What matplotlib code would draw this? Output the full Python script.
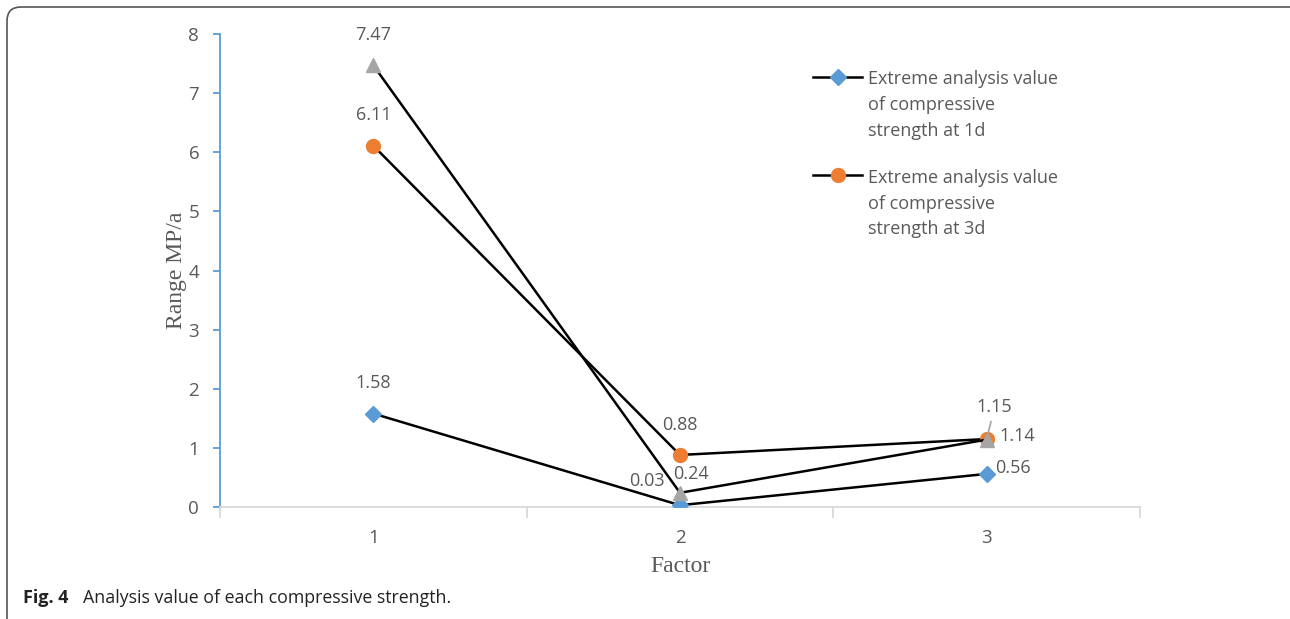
import matplotlib
matplotlib.use('Agg')
import matplotlib.pyplot as plt
from matplotlib.patches import FancyBboxPatch

# Data
factors = [1, 2, 3]
strength_1d = [1.58, 0.03, 0.56]
strength_3d = [6.11, 0.88, 1.15]
strength_7d = [7.47, 0.24, 1.14]
legend_1d = 'Extreme analysis value\nof compressive\nstrength at 1d'
legend_3d = 'Extreme analysis value\nof compressive\nstrength at 3d'
y_ticks = [0, 1, 2, 3, 4, 5, 6, 7, 8]

label_font = 'Open Sans'
text_grey = '#595959'

fig = plt.figure(figsize=(12.9, 6.19), dpi=100)
ax = fig.add_axes([220 / 1290, 1 - 507 / 619, 920 / 1290, 473 / 619])

# Series: black lines with coloured markers (Excel style)
ax.plot(factors, strength_1d, color='black', lw=1.8, marker='D', ms=8.5,
        mfc='#5B9BD5', mec='#5B9BD5', label=legend_1d, zorder=3)
ax.plot(factors, strength_3d, color='black', lw=1.8, marker='o', ms=10,
        mfc='#ED7D31', mec='#ED7D31', label=legend_3d, zorder=3)
ax.plot(factors, strength_7d, color='black', lw=1.8, marker='^', ms=10,
        mfc='#A5A5A5', mec='#A5A5A5', label='_nolegend_', zorder=3)

# data labels (offsets in pixels, placed like the original)
def put_label(x, y, dx, dy, leader=False):
    kw = {}
    if leader:
        kw['arrowprops'] = dict(arrowstyle='-', color='#A5A5A5', lw=1.2,
                                shrinkA=2, shrinkB=4)
    ax.annotate(f'{y:.2f}', (x, y), xytext=(dx, dy), textcoords='offset pixels',
                ha='center', va='center', fontsize=13, family=label_font,
                color=text_grey, **kw)

offs_1d = [(0, 31), (-33, 24), (26, 6)]
offs_3d = [(0, 31), (0, 30), (8, 32)]
offs_7d = [(0, 30), (11, 19), (31, 4)]
for i in range(3):
    put_label(factors[i], strength_1d[i], *offs_1d[i])
    put_label(factors[i], strength_3d[i], *offs_3d[i], leader=(i == 2))
    put_label(factors[i], strength_7d[i], *offs_7d[i])

ax.set_xlim(0.5, 3.5)
ax.set_ylim(0, 8)
ax.set_yticks(y_ticks)
ax.set_xticks(factors)
ax.set_xticks([0.5, 1.5, 2.5, 3.5], minor=True)
ax.set_xticklabels([str(f) for f in factors])

for s in ['top', 'right']:
    ax.spines[s].set_visible(False)
ax.spines['left'].set_color('#5B9BD5')
ax.spines['left'].set_linewidth(1.3)
ax.spines['bottom'].set_color('#D9D9D9')
ax.spines['bottom'].set_linewidth(1.3)

ax.tick_params(axis='y', direction='out', length=5, width=1.3, color='#5B9BD5',
               labelsize=13.5, labelcolor=text_grey, pad=10)
ax.tick_params(axis='x', which='major', length=0, labelsize=13.5,
               labelcolor=text_grey, pad=16)
ax.tick_params(axis='x', which='minor', direction='out', length=8, width=1.3,
               color='#D9D9D9')
for lab in ax.get_xticklabels() + ax.get_yticklabels():
    lab.set_family(label_font)

ax.set_xlabel('Factor', family='Liberation Serif', fontsize=17,
              color=text_grey, labelpad=6)
ax.set_ylabel('Range MP/a', family='Liberation Serif', fontsize=17,
              color=text_grey, labelpad=1)

leg = ax.legend(loc='upper left', bbox_to_anchor=(797 / 1290, 1 - 54 / 619),
                bbox_transform=fig.transFigure, frameon=False,
                prop={'family': label_font, 'size': 13},
                handlelength=2.7, handletextpad=0.35, labelspacing=1.62)
for t in leg.get_texts():
    t.set_color(text_grey)
    t.set_linespacing(1.55)
# handle next to the first line of each entry, as in Excel
for col in leg._legend_handle_box.get_children():
    for item in col.get_children():
        item.align = 'top'

# rounded frame round the figure (right and bottom edges run off the image)
frame = FancyBboxPatch((7, -30), 1320, 612 + 30, boxstyle='round,pad=0,rounding_size=14',
                       transform=None, fill=False, ec='#555555', lw=1.2)
fig.patches.append(frame)

fig.text(23 / 1290, 1 - 598 / 619, 'Fig. 4', fontweight='bold', family='Open Sans',
         fontsize=13, va='center', ha='left', color='#222222')
fig.text(83 / 1290, 1 - 598 / 619, 'Analysis value of each compressive strength.',
         family='Open Sans', fontsize=12.8, va='center', ha='left', color='#222222')

fig.savefig('out.png', dpi=100)
